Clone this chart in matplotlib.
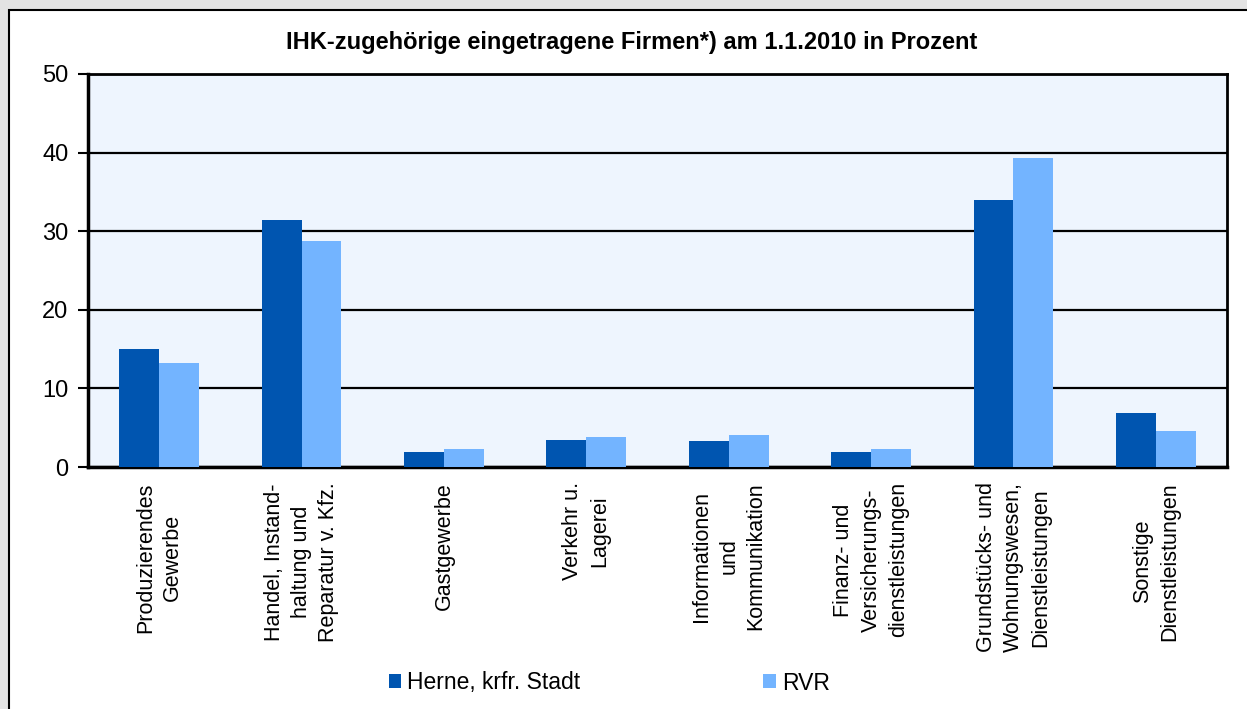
import numpy as np
import matplotlib
matplotlib.use("Agg")
import matplotlib.pyplot as plt
from matplotlib.patches import Rectangle

categories = [
    "Produzierendes\nGewerbe",
    "Handel, Instand-\nhaltung und\nReparatur v. Kfz.",
    "Gastgewerbe",
    "Verkehr u.\nLagerei",
    "Informationen\nund\nKommunikation",
    "Finanz- und\nVersicherungs-\ndienstleistungen",
    "Grundstücks- und\nWohnungswesen,\nDienstleistungen",
    "Sonstige\nDienstleistungen",
]
herne = [15.0, 31.4, 1.9, 3.4, 3.3, 1.9, 34.0, 6.9]
rvr = [13.2, 28.8, 2.3, 3.8, 4.1, 2.3, 39.3, 4.6]
series_names = ["Herne, krfr. Stadt", "RVR"]
yticks = [0, 10, 20, 30, 40, 50]
title = "IHK-zugehörige eingetragene Firmen*) am 1.1.2010 in Prozent"

plt.rcParams['font.family'] = ['Liberation Sans', 'DejaVu Sans']

W, H = 1247, 709
fig = plt.figure(figsize=(W / 100, H / 100), dpi=100, facecolor='#e3e3e3')
rect = Rectangle((9 / W, -0.1), 1.2, 1.1 - 10 / H, transform=fig.transFigure,
                 facecolor='white', edgecolor='black', linewidth=1.5, zorder=-10)
fig.patches.append(rect)

ax = fig.add_axes([88 / W, 1 - 467 / H, (1227 - 88) / W, (467 - 74) / H], zorder=1)
ax.set_facecolor('#eef5fe')

x = np.arange(len(categories))
w = 0.28
b1 = ax.bar(x - w / 2, herne, w, color='#0055b0', label=series_names[0], zorder=3)
b2 = ax.bar(x + w / 2, rvr, w, color='#73b4ff', label=series_names[1], zorder=3)

ax.set_xlim(-0.5, len(categories) - 0.5)
ax.set_ylim(0, 50)
ax.set_yticks(yticks)
ax.set_yticklabels([str(v) for v in yticks], fontsize=17)
ax.yaxis.grid(True, color='black', linewidth=1.6, zorder=1)
ax.set_axisbelow(True)
ax.tick_params(axis='y', direction='out', length=7, width=1.5, pad=7, colors='black')
ax.set_xticks(x)
ax.set_xticklabels(categories, rotation=90, ha='center', va='top',
                   multialignment='center', fontsize=15.5, linespacing=1.38)
ax.tick_params(axis='x', length=0, pad=11)
for s in ['left', 'bottom']:
    ax.spines[s].set_linewidth(2.5)
for s in ['top', 'right']:
    ax.spines[s].set_linewidth(2)

fig.text(632 / W, 1 - 43 / H, title, ha='center', va='center',
         fontsize=17, fontweight='bold')

fig.legend(handles=[b1, b2], loc='center', bbox_to_anchor=(609 / W, 1 - 683 / H),
           ncol=2, frameon=False, fontsize=16.5, columnspacing=8.0,
           handletextpad=0.25, handlelength=0.55, handleheight=0.55)

fig.savefig('out.png', dpi=100, facecolor=fig.get_facecolor())
